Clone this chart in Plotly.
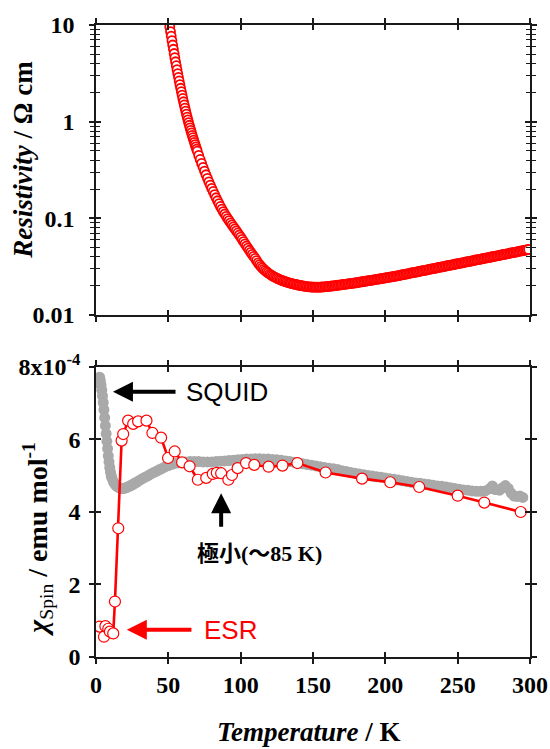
import numpy as np
import plotly.graph_objects as go

# ---------------- data ----------------
# Resistivity (top panel): temperature in K and log10(resistivity / Ohm cm)
rho_T = [51.0, 51.5, 52.0, 52.5, 53.0, 53.5, 54.0, 54.5, 55.0, 55.5, 56.0, 56.5, 57.0, 57.5,
         58.0, 58.5, 59.0, 59.5, 60.0, 60.5, 61.0, 61.5, 62.0, 62.5, 63.0, 63.5, 64.0, 64.5,
         65.0, 65.5, 66.0, 66.5, 67.0, 67.5, 68.0, 68.5, 69.0, 69.5, 70.0,
         71, 72, 73, 74, 75, 76, 77, 78, 79, 80, 81, 82, 83, 84, 85, 86, 87, 88, 89, 90,
         91, 92, 93, 94, 95, 96, 97, 98, 99, 100, 101, 102, 103, 104, 105, 106, 107, 108, 109, 110,
         111, 112, 113, 114, 115, 116, 117, 118, 119, 120, 121, 122, 123, 124, 125, 126, 127, 128,
         129, 130, 131, 132, 133, 134, 135, 136, 137, 138, 139, 140, 141, 142, 143, 144, 145, 146,
         147, 148, 149, 150, 151, 152, 153, 154, 155, 156, 157, 158, 159, 160, 161, 162, 163, 164,
         165, 166, 167, 168, 169, 170, 171, 172, 173, 174, 175, 176, 177, 178, 179, 180,
         181, 182, 183, 184, 185, 186, 187, 188, 189, 190, 191, 192, 193, 194, 195, 196, 197, 198,
         199, 200, 201, 202, 203, 204, 205, 206, 207, 208, 209, 210, 211, 212, 213, 214, 215, 216,
         217, 218, 219, 220, 221, 222, 223, 224, 225, 226, 227, 228, 229, 230, 231, 232, 233, 234,
         235, 236, 237, 238, 239, 240, 241, 242, 243, 244, 245, 246, 247, 248, 249, 250, 251, 252,
         253, 254, 255, 256, 257, 258, 259, 260, 261, 262, 263, 264, 265, 266, 267, 268, 269, 270,
         271, 272, 273, 274, 275, 276, 277, 278, 279, 280, 281, 282, 283, 284, 285, 286, 287, 288,
         289, 290, 291, 292, 293, 294, 295, 296, 297, 298, 299]
rho_log = [0.980, 0.932, 0.885, 0.839, 0.793, 0.749, 0.705, 0.662, 0.620, 0.579, 0.538, 0.498,
           0.459, 0.421, 0.383, 0.346, 0.310, 0.275, 0.240, 0.206, 0.173, 0.141, 0.109, 0.078,
           0.048, 0.019, -0.010, -0.037, -0.064, -0.090, -0.116, -0.141, -0.166, -0.190, -0.214,
           -0.237, -0.260, -0.283, -0.305,
           -0.349, -0.391, -0.432, -0.472, -0.511, -0.549, -0.586, -0.622, -0.657, -0.690,
           -0.722, -0.755, -0.787, -0.818, -0.848, -0.877, -0.904, -0.930, -0.955, -0.979,
           -1.002, -1.024, -1.046, -1.067, -1.088, -1.109, -1.130, -1.151, -1.172, -1.194,
           -1.217, -1.240, -1.263, -1.286, -1.308, -1.330, -1.352, -1.373, -1.394, -1.414,
           -1.437, -1.460, -1.479, -1.497, -1.513, -1.528, -1.541, -1.554, -1.565, -1.576,
           -1.586, -1.595, -1.604, -1.612, -1.619, -1.626, -1.633, -1.639, -1.645, -1.650,
           -1.655, -1.660, -1.665, -1.669, -1.673, -1.677, -1.681, -1.684, -1.687, -1.690,
           -1.693, -1.696, -1.699, -1.701, -1.704, -1.706, -1.708, -1.709, -1.710, -1.711,
           -1.712, -1.712, -1.712, -1.711, -1.711, -1.710, -1.709, -1.708, -1.707, -1.705,
           -1.704, -1.702, -1.700, -1.698, -1.696, -1.694, -1.692, -1.690, -1.688, -1.686,
           -1.684, -1.682, -1.680, -1.678, -1.676, -1.674, -1.672, -1.670, -1.668, -1.666,
           -1.663, -1.661, -1.658, -1.656, -1.653, -1.651, -1.648, -1.646, -1.643, -1.641,
           -1.638, -1.636, -1.633, -1.631, -1.628, -1.626, -1.623, -1.621, -1.618, -1.616,
           -1.613, -1.611, -1.608, -1.606, -1.603, -1.601, -1.598, -1.595, -1.592, -1.589,
           -1.586, -1.583, -1.580, -1.577, -1.574, -1.571, -1.568, -1.565, -1.562, -1.559,
           -1.556, -1.553, -1.550, -1.547, -1.544, -1.541, -1.538, -1.535, -1.532, -1.529,
           -1.526, -1.523, -1.520, -1.517, -1.514, -1.511, -1.508, -1.505, -1.502, -1.499,
           -1.496, -1.493, -1.490, -1.487, -1.484, -1.481, -1.478, -1.475, -1.472, -1.469,
           -1.466, -1.463, -1.460, -1.457, -1.454, -1.451, -1.448, -1.445, -1.442, -1.439,
           -1.436, -1.433, -1.430, -1.427, -1.424, -1.421, -1.418, -1.415, -1.412, -1.409,
           -1.406, -1.403, -1.400, -1.397, -1.394, -1.391, -1.388, -1.385, -1.382, -1.379,
           -1.376, -1.373, -1.370, -1.367, -1.364, -1.361, -1.358, -1.355, -1.352, -1.349,
           -1.346, -1.343, -1.340, -1.337, -1.334, -1.331, -1.328, -1.325, -1.322]

# SQUID susceptibility (bottom panel, grey), in 1e-4 emu/mol
squid_T = [2.5, 3.0, 3.5, 4.0, 4.5, 5.0, 5.5, 6.0, 6.5, 7.0, 7.5, 8.0, 8.5, 9.0, 9.5, 10.0, 10.5,
           11.0, 12.0, 13.0, 14.0, 15.0, 16.0, 17.0, 18.0, 19.0, 20.0, 21.0, 22.0, 23.0, 24.0,
           25.0, 26.0, 27.0, 28.0, 30.0, 32.0, 34.0, 36.0, 38.0, 40.0, 42.0, 44.0, 46.0, 48.0,
           50.0, 53.0, 56.0, 59.0, 62.0, 65.0, 68.0, 71.0, 74.0, 77.0, 80.0, 83.0, 86.0, 89.0,
           92.0, 95.0, 98.0, 101.0, 104.0, 107.0, 110.0, 113.0, 116.0, 119.0, 122.0, 125.0,
           128.0, 131.0, 134.0, 137.0, 140.0, 143.0, 146.0, 149.0, 152.0, 155.0, 158.0, 161.0,
           164.0, 167.0, 170.0, 173.0, 176.0, 179.0, 182.0, 185.0, 188.0, 191.0, 194.0, 197.0,
           200.0, 203.0, 206.0, 209.0, 212.0, 215.0, 218.0, 221.0, 224.0, 227.0, 230.0, 233.0,
           236.0, 239.0, 242.0, 245.0, 248.0, 251.0, 254.0, 257.0, 260.0, 263.0, 266.0, 269.0,
           272.0, 274.0, 276.0, 279.0, 281.0, 283.0, 285.0, 287.0, 289.0, 291.0, 293.0, 295.0]
squid_chi = [7.72, 7.62, 7.50, 7.36, 7.20, 7.02, 6.82, 6.60, 6.38, 6.16, 5.95, 5.75, 5.55, 5.38,
             5.23, 5.10, 5.00, 4.93, 4.84, 4.77, 4.72, 4.69, 4.67, 4.65, 4.65, 4.65, 4.66, 4.67,
             4.69, 4.71, 4.73, 4.75, 4.77, 4.80, 4.82, 4.87, 4.92, 4.96, 5.00, 5.05, 5.09, 5.13,
             5.17, 5.21, 5.25, 5.28, 5.32, 5.35, 5.37, 5.38, 5.39, 5.39, 5.39, 5.38, 5.38, 5.38,
             5.39, 5.40, 5.41, 5.42, 5.43, 5.44, 5.45, 5.46, 5.46, 5.47, 5.47, 5.46, 5.46, 5.45,
             5.44, 5.43, 5.41, 5.39, 5.37, 5.35, 5.33, 5.31, 5.29, 5.27, 5.25, 5.23, 5.21, 5.19,
             5.17, 5.14, 5.12, 5.09, 5.07, 5.05, 5.03, 5.01, 4.99, 4.97, 4.96, 4.94, 4.92, 4.90,
             4.88, 4.86, 4.84, 4.82, 4.80, 4.79, 4.77, 4.76, 4.74, 4.72, 4.71, 4.69, 4.67, 4.65,
             4.63, 4.61, 4.60, 4.58, 4.57, 4.57, 4.58, 4.64, 4.72, 4.62, 4.60, 4.67, 4.73, 4.65,
             4.52, 4.44, 4.43, 4.44, 4.40]

# ESR spin susceptibility (bottom panel, red open circles), in 1e-4 emu/mol
esr_T = [2.5, 5.5, 6.5, 8.5, 9.6, 11.9, 13.1, 15.4, 17.7, 18.8, 22.2, 25.7, 29.1, 34.9, 39.0,
         45.0, 49.8, 54.4, 59.5, 64.7, 70.4, 76.2, 80.7, 83.5, 86.5, 91.5, 94.0, 97.9, 103.7,
         109.4, 119.3, 128.9, 139.2, 158.7, 183.9, 203.4, 223.4, 250.0, 268.4, 293.6]
esr_chi = [0.84, 0.56, 0.85, 0.78, 0.70, 0.65, 1.53, 3.55, 5.97, 6.15, 6.52, 6.43, 6.50, 6.52,
           6.18, 6.05, 5.49, 5.67, 5.37, 5.26, 4.89, 4.94, 5.05, 5.08, 5.07, 4.89, 5.02, 5.21,
           5.35, 5.30, 5.25, 5.28, 5.35, 5.09, 4.92, 4.82, 4.69, 4.45, 4.26, 4.00]

x_ticks = [0, 50, 100, 150, 200, 250, 300]
rho_ticks = [0.01, 0.1, 1, 10]
rho_tick_text = ["0.01", "0.1", "1", "10"]
chi_ticks = [0, 2, 4, 6, 8]
chi_tick_text = ["0", "2", "4", "6", "8x10<sup>-4</sup>"]

# ---------------- figure ----------------
SERIF = "Liberation Serif, Times New Roman, serif"
SANS = "Liberation Sans, Arial, sans-serif"
RED = "#ff0000"
GREY = "#a9a9a9"
AX = "#1a1a1a"

fig = go.Figure()

fig.add_trace(go.Scatter(
    x=rho_T, y=np.power(10.0, rho_log), mode="markers", xaxis="x", yaxis="y",
    marker=dict(symbol="circle", size=9, color="white", line=dict(color=RED, width=1.8)),
    showlegend=False, hoverinfo="skip"))

fig.add_trace(go.Scatter(
    x=squid_T, y=squid_chi, mode="markers", xaxis="x2", yaxis="y2",
    marker=dict(symbol="circle", size=11, color=GREY, line=dict(width=0)),
    showlegend=False, hoverinfo="skip"))

fig.add_trace(go.Scatter(
    x=esr_T, y=esr_chi, mode="lines+markers", xaxis="x2", yaxis="y2",
    line=dict(color=RED, width=2.6),
    marker=dict(symbol="circle", size=11, color="white", line=dict(color=RED, width=1.2)),
    showlegend=False, hoverinfo="skip"))

# dummy traces so the overlay (inside-tick) axes are drawn
fig.add_trace(go.Scatter(x=[None], y=[None], xaxis="x3", yaxis="y3", showlegend=False, hoverinfo="skip"))
fig.add_trace(go.Scatter(x=[None], y=[None], xaxis="x4", yaxis="y4", showlegend=False, hoverinfo="skip"))

top_dom = [0.5411, 1.0]
bot_dom = [0.0, 0.4589]

minor_vals = [m * 10.0 ** k for k in (-2, -1, 0) for m in range(2, 10)]

tickfont = dict(family=SERIF, size=24, color="black", weight="bold")

common_x = dict(range=[0, 300], tickvals=x_ticks, showgrid=False, zeroline=False,
                ticklen=5, tickwidth=1.5, tickcolor=AX, automargin=False)
fig.update_layout(
    width=550, height=749,
    margin=dict(l=96, r=20, t=25, b=92),
    paper_bgcolor="white", plot_bgcolor="white",
    xaxis=dict(**common_x, domain=[0, 1], anchor="y", ticks="outside", mirror="ticks",
               showline=True, linecolor=AX, linewidth=1.5, showticklabels=False),
    yaxis=dict(type="log", range=[-2, 1], domain=top_dom, anchor="x", tickvals=rho_ticks,
               ticktext=rho_tick_text, ticks="outside", ticklen=5, tickwidth=1.5, tickcolor=AX,
               mirror="ticks", showline=True, linecolor=AX, linewidth=1.5, showgrid=False,
               tickfont=tickfont, ticklabelstandoff=10, automargin=False,
               minor=dict(tickvals=minor_vals, ticks="outside", ticklen=4, tickwidth=1.2,
                          tickcolor=AX, showgrid=False)),
    xaxis3=dict(**common_x, overlaying="x", anchor="y3", ticks="inside", mirror="ticks",
                showline=False, showticklabels=False),
    yaxis3=dict(type="log", range=[-2, 1], overlaying="y", anchor="x3", tickvals=rho_ticks,
                ticks="inside", ticklen=5, tickwidth=1.5, tickcolor=AX, mirror="ticks",
                showline=False, showgrid=False, showticklabels=False, automargin=False,
                minor=dict(tickvals=minor_vals, ticks="inside", ticklen=4, tickwidth=1.2,
                           tickcolor=AX, showgrid=False)),
    xaxis2=dict(**common_x, domain=[0, 1], anchor="y2", ticks="outside", mirror="ticks",
                showline=True, linecolor=AX, linewidth=1.5, showticklabels=True,
                tickfont=tickfont),
    yaxis2=dict(range=[0, 8], domain=bot_dom, anchor="x2", tickvals=chi_ticks,
                ticktext=chi_tick_text, ticks="outside", ticklen=5, tickwidth=1.5,
                tickcolor=AX, mirror="ticks", showline=True, linecolor=AX, linewidth=1.5,
                showgrid=False, zeroline=False, tickfont=tickfont, ticklabelstandoff=4,
                automargin=False),
    xaxis4=dict(**common_x, overlaying="x2", anchor="y4", ticks="inside", mirror="ticks",
                showline=False, showticklabels=False),
    yaxis4=dict(range=[0, 8], overlaying="y2", anchor="x4", tickvals=chi_ticks,
                ticks="inside", ticklen=5, tickwidth=1.5, tickcolor=AX, mirror="ticks",
                showline=False, showgrid=False, zeroline=False, showticklabels=False,
                automargin=False),
)

annotations = [
    # axis titles
    dict(xref="paper", yref="paper", x=-0.168, y=0.787, xanchor="center", yanchor="middle",
         textangle=-90, showarrow=False,
         text="<b><i>Resistivity</i> / Ω cm</b>", font=dict(family=SERIF, size=27, color="black")),
    dict(xref="paper", yref="paper", x=-0.134, y=0.187, xanchor="center", yanchor="middle",
         textangle=-90, showarrow=False,
         text="<b><i>χ</i></b><sub>Spin</sub><b> / emu mol<sup>-1</sup></b>",
         font=dict(family=SERIF, size=28, color="black")),
    dict(xref="paper", yref="paper", x=0.491, y=-0.1456, xanchor="center", yanchor="bottom",
         showarrow=False,
         text="<b><i>Temperature</i> / K</b>", font=dict(family=SERIF, size=27, color="black")),
    # SQUID arrow + label
    dict(xref="x2", yref="y2", x=11.7, y=7.32, axref="x2", ayref="y2", ax=56, ay=7.32,
         text="", showarrow=True, arrowhead=2, arrowsize=1, arrowwidth=4, arrowcolor="black"),
    dict(xref="x2", yref="y2", x=61.0, y=7.32, xanchor="left", yanchor="middle", showarrow=False,
         text="SQUID", font=dict(family=SANS, size=26, color="black")),
    # ESR arrow + label
    dict(xref="x2", yref="y2", x=21.3, y=0.75, axref="x2", ayref="y2", ax=67, ay=0.75,
         text="", showarrow=True, arrowhead=2, arrowsize=1, arrowwidth=4, arrowcolor=RED),
    dict(xref="x2", yref="y2", x=73.0, y=0.75, xanchor="left", yanchor="middle", showarrow=False,
         text="ESR", font=dict(family=SANS, size=26, color=RED)),
    # minimum arrow + label
    dict(xref="x2", yref="y2", x=86.5, y=4.52, axref="x2", ayref="y2", ax=86.5, ay=3.55,
         text="", showarrow=True, arrowhead=2, arrowsize=1, arrowwidth=4, arrowcolor="black"),
    dict(xref="x2", yref="y2", x=113, y=2.93, xanchor="center", yanchor="middle", showarrow=False,
         text="<b><span style='font-family:Noto Sans CJK JP'>極小</span>(〜85 K)</b>",
         font=dict(family="Liberation Serif, Noto Sans CJK JP, serif", size=22, color="black")),
]
fig.update_layout(annotations=annotations)

# remove the default 8px page margin so the 550x749 figure fills the window exactly
fig.write_html("out.html",
               config={"displayModeBar": False},
               post_script="document.body.style.margin='0';document.body.style.overflow='hidden';")
